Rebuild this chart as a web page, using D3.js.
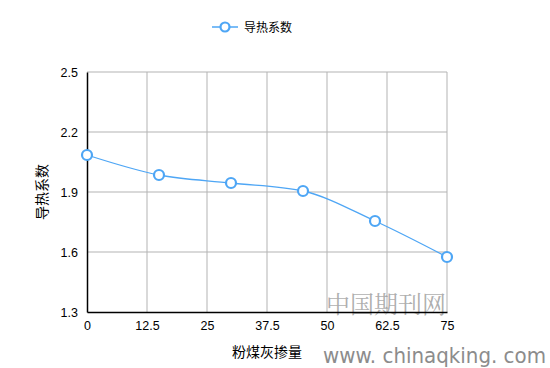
<!DOCTYPE html>
<html>
<head>
<meta charset="utf-8">
<script src="https://cdn.jsdelivr.net/npm/d3@7"></script>
<style>
  body { margin: 0; background: #fff; }
  svg { display: block; font-family: Arial, "Liberation Sans", "Noto Sans CJK SC", sans-serif; }
</style>
</head>
<body>
<svg id="chart" width="550" height="368"></svg>
<script>
// chart data
var ashContent = [0, 15, 30, 45, 60, 75];
var conductivity = [2.085, 1.985, 1.945, 1.905, 1.755, 1.575];
var xTicks = [0, 12.5, 25, 37.5, 50, 62.5, 75];
var yTicks = [1.3, 1.6, 1.9, 2.2, 2.5];
var seriesName = '导热系数';
var xTitle = '粉煤灰掺量';

var svg = d3.select('#chart');
var color = '#4ea6f5';
var plot = { left: 87, right: 447, top: 72, bottom: 312 };

var x = d3.scaleLinear().domain([0, 75]).range([plot.left, plot.right]);
var y = d3.scaleLinear().domain([1.3, 2.5]).range([plot.bottom, plot.top]);

// gridlines
var grid = svg.append('g');
grid.selectAll('.gx').data(xTicks.slice(1)).enter().append('line')
	.attr('x1', function(d) { return x(d); }).attr('x2', function(d) { return x(d); })
	.attr('y1', plot.top).attr('y2', plot.bottom)
	.attr('stroke', '#b3b3b3').attr('stroke-width', 1);
grid.selectAll('.gy').data(yTicks.slice(1)).enter().append('line')
	.attr('x1', plot.left).attr('x2', plot.right)
	.attr('y1', function(d) { return y(d); }).attr('y2', function(d) { return y(d); })
	.attr('stroke', '#b3b3b3').attr('stroke-width', 1);

// watermark (behind the marks)
svg.append('text').attr('x', 326).attr('y', 313).attr('font-size', 24)
	.attr('font-family', '"Noto Serif CJK SC", "Noto Sans CJK SC", serif')
	.attr('fill', '#a0a0a0').attr('fill-opacity', 0.85)
	.attr('textLength', 120).text('中国期刊网');
svg.append('text').attr('x', 323).attr('y', 363).attr('font-size', 21)
	.attr('font-family', '"DejaVu Sans", sans-serif')
	.attr('fill', '#8c8c8c')
	.attr('textLength', 223).attr('lengthAdjust', 'spacingAndGlyphs')
	.text('www. chinaqking. com');

// axes
var xAxis = d3.axisBottom(x).tickValues(xTicks).tickSize(0).tickPadding(9)
	.tickFormat(function(d) { return d; });
var yAxis = d3.axisLeft(y).tickValues(yTicks).tickSize(0).tickPadding(9)
	.tickFormat(d3.format('.1f'));

var gx = svg.append('g').attr('transform', 'translate(0,' + plot.bottom + ')').call(xAxis);
var gy = svg.append('g').attr('transform', 'translate(' + plot.left + ',0)').call(yAxis);
[gx, gy].forEach(function(g) {
	g.select('.domain').attr('stroke', '#000').attr('stroke-width', 1.5);
	g.selectAll('text').attr('font-size', 12.5).attr('fill', '#000')
		.attr('font-family', 'Arial, "Liberation Sans", sans-serif');
});

// axis titles
svg.append('text').attr('x', (plot.left + plot.right) / 2).attr('y', 357)
	.attr('text-anchor', 'middle').attr('font-size', 14).text(xTitle);
svg.append('text').attr('transform', 'translate(47,' + ((plot.top + plot.bottom) / 2) + ') rotate(-90)')
	.attr('text-anchor', 'middle').attr('font-size', 14).text(seriesName);

// series
var pts = ashContent.map(function(d, i) { return [d, conductivity[i]]; });
var line = d3.line()
	.x(function(d) { return x(d[0]); })
	.y(function(d) { return y(d[1]); })
	.curve(d3.curveMonotoneX);

svg.append('path').datum(pts).attr('d', line)
	.attr('fill', 'none').attr('stroke', color).attr('stroke-width', 1.3);

svg.selectAll('.pt').data(pts).enter().append('circle')
	.attr('cx', function(d) { return x(d[0]); })
	.attr('cy', function(d) { return y(d[1]); })
	.attr('r', 5).attr('fill', '#fff')
	.attr('stroke', color).attr('stroke-width', 2.2);

// legend
var lg = svg.append('g').attr('transform', 'translate(212,27)');
lg.append('line').attr('x1', 0).attr('x2', 26).attr('stroke', color).attr('stroke-width', 1.5);
lg.append('circle').attr('cx', 13).attr('r', 4.5).attr('fill', '#fff')
	.attr('stroke', color).attr('stroke-width', 2.2);
lg.append('text').attr('x', 32).attr('y', 4.5).attr('font-size', 12).text(seriesName);
</script>
</body>
</html>
